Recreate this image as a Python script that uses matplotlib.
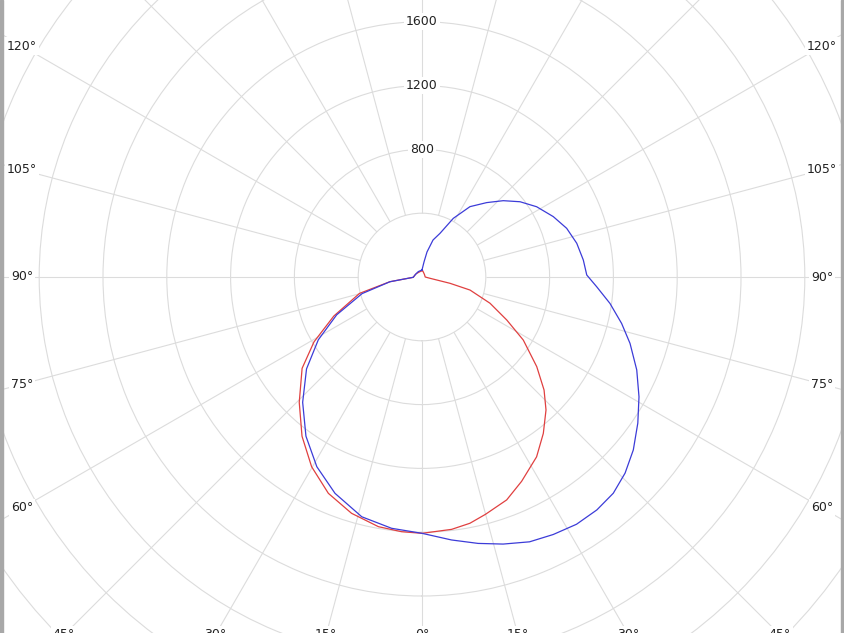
import numpy as np
import matplotlib
matplotlib.use("Agg")
import matplotlib.pyplot as plt
from matplotlib.patches import Rectangle

# gamma angle in degrees (0 = straight down, positive = right half), intensity in cd
red_angle = [-180, -120, -88, -81.6, -75.3, -66.1, -59, -52.7, -44.4, -37, -30.2,
             -23.4, -16.6, -9.9, -4.6, 0, 6.7, 11, 15, 20.8, 26, 32.5, 37.8, 43,
             47.2, 52, 58.1, 63.1, 68.9, 74.8, 77.3, 80.8, 90, 135, 174, 180]
red_cd = [40, 42, 55, 205, 405, 605, 790, 945, 1100, 1250, 1376,
          1478, 1546, 1589, 1602, 1607, 1593, 1573, 1540, 1495, 1425, 1337, 1241, 1140,
          1043, 913, 748, 596, 457, 312, 180, 51, 20, 22, 40, 40]

blue_angle = [-180, -145, -106, -88, -81.6, -74.5, -66.1, -58.8, -51.5, -43.6, -36.1,
              -29, -21.9, -14.1, -6.9, 0, 6.4, 11.9, 16.9, 22.1, 27, 32, 36.9, 41.5,
              46, 50.7, 55.9, 61.1, 66.6, 72.3, 76.9, 82, 86.8, 90.7, 96, 102.3,
              108.6, 114.7, 121.5, 127.5, 133.2, 139, 145.7, 151.9, 157.6, 163.4,
              168.7, 172.4, 180]
blue_cd = [44, 41, 46, 55, 203, 390, 585, 760, 925, 1085, 1235,
           1360, 1462, 1550, 1587, 1607, 1659, 1707, 1750, 1792, 1812, 1828, 1826, 1810,
           1770, 1712, 1634, 1554, 1467, 1369, 1285, 1190, 1097, 1033, 1017, 993,
           957, 906, 843, 775, 699, 618, 534, 417, 296, 242,
           160, 95, 44]

ring_values = list(range(400, 3601, 400))
ring_labels = [800, 1200, 1600]
spoke_angles = list(range(0, 360, 15))
label_angles = list(range(-120, 121, 15))

W, H = 844, 633
cx, cy = 422, 277          # pole position in pixels (from top-left)
px_per_cd = 63.8 / 400
rmax = 3600
R = rmax * px_per_cd
grid_c = "#dcdcdc"
text_c = "#222222"

fig = plt.figure(figsize=(W / 100, H / 100), dpi=100)
ax = fig.add_axes([(cx - R) / W, (H - cy - R) / H, 2 * R / W, 2 * R / H], projection="polar")
ax.set_theta_zero_location("S")
ax.set_theta_direction(1)
ax.set_rlim(0, rmax)
ax.spines["polar"].set_visible(False)
ax.set_xticks([])
ax.set_yticks(ring_values)
ax.set_yticklabels([])
ax.yaxis.grid(True, color=grid_c, lw=0.8)
ax.set_axisbelow(True)

# radial spokes start at the first ring
ax.vlines(np.deg2rad(spoke_angles), 400, rmax, colors=grid_c, lw=0.8, zorder=1)

ax.plot(np.deg2rad(red_angle), red_cd, color="#e04040", lw=0.9, zorder=3)
ax.plot(np.deg2rad(blue_angle), blue_cd, color="#3c3cd8", lw=0.9, zorder=4)

# intensity labels along the upper vertical spoke
for v in ring_labels:
    ax.text(np.pi, v, str(v), ha="center", va="center", fontsize=9, color=text_c,
            bbox=dict(fc="white", ec="none", pad=1.5), zorder=5)

# angle labels where each spoke leaves the visible frame
half_w, half_h = 400 / px_per_cd, 358 / px_per_cd
for a in label_angles:
    sx, sy = np.sin(np.deg2rad(a)), np.cos(np.deg2rad(a))
    t = min(half_w / abs(sx) if abs(sx) > 1e-9 else np.inf,
            half_h / abs(sy) if abs(sy) > 1e-9 else np.inf)
    ax.text(np.deg2rad(a), t, f"{abs(a)}°", ha="center", va="center", fontsize=9,
            color=text_c, bbox=dict(fc="white", ec="none", pad=1.5), zorder=5,
            clip_on=False)

# gray frame edges at left and right
fig.add_artist(Rectangle((0, 0), 3 / W, 1, transform=fig.transFigure, color="#a8a8a8"))
fig.add_artist(Rectangle(((W - 3) / W, 0), 3 / W, 1, transform=fig.transFigure, color="#a8a8a8"))

fig.savefig("out.png", dpi=100)
